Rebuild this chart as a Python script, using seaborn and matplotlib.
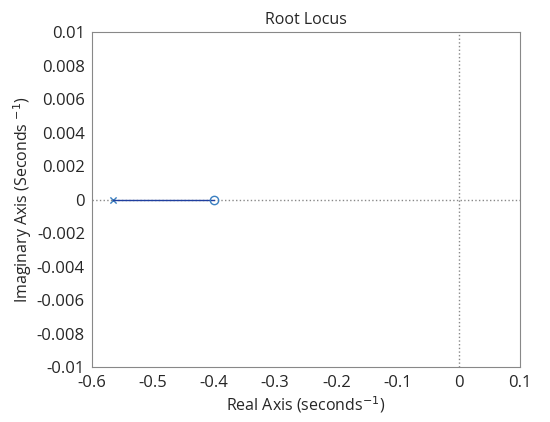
import matplotlib
matplotlib.use("Agg")
import matplotlib.pyplot as plt
import seaborn as sns
import pandas as pd

# --- Root locus data ---
pole_x = [-0.565]
zero_x = [-0.4]
locus_x = [-0.565, -0.4]
locus_y = [0.0, 0.0]

xticks = [-0.6, -0.5, -0.4, -0.3, -0.2, -0.1, 0, 0.1]
yticks = [-0.01, -0.008, -0.006, -0.004, -0.002, 0, 0.002, 0.004, 0.006, 0.008, 0.01]

sns.set_style("white")
plt.rcParams['font.family'] = ['Open Sans', 'DejaVu Sans']

fig = plt.figure(figsize=(5.5, 4.22), dpi=100)
ax = fig.add_axes([0.167, 0.130, 0.778, 0.794])

ax.axhline(0, color='#888888', ls=':', lw=1)
ax.axvline(0, color='#888888', ls=':', lw=1)

df = pd.DataFrame({'x': locus_x, 'y': locus_y})
sns.lineplot(data=df, x='x', y='y', ax=ax, color='#1f3f9f', lw=1)
sns.scatterplot(x=pole_x, y=[0], ax=ax, marker='x', color='#3a7fc0', s=20, linewidth=1)
ax.plot(zero_x, [0], 'o', mfc='none', mec='#3a7fc0', ms=6, mew=1)

ax.set_xlim(-0.6, 0.1)
ax.set_ylim(-0.01, 0.01)
ax.set_xticks(xticks)
ax.set_xticklabels([f"{v:g}" for v in xticks])
ax.set_yticks(yticks)
ax.set_yticklabels([f"{v:g}" for v in yticks])
ax.tick_params(labelsize=12, direction='in', length=4, color='#444444')
ax.tick_params(axis='x', pad=6)
ax.tick_params(axis='y', pad=5)
for s in ax.spines.values():
    s.set_color('#888888')
    s.set_linewidth(0.8)

ax.set_title('Root Locus', fontsize=11.5)
ax.set_xlabel('Real Axis (seconds$^{-1}$)', fontsize=11.5, labelpad=2)
ax.set_ylabel('Imaginary Axis (Seconds $^{-1}$)', fontsize=11.5, labelpad=2)

fig.savefig('out.png', dpi=100)
